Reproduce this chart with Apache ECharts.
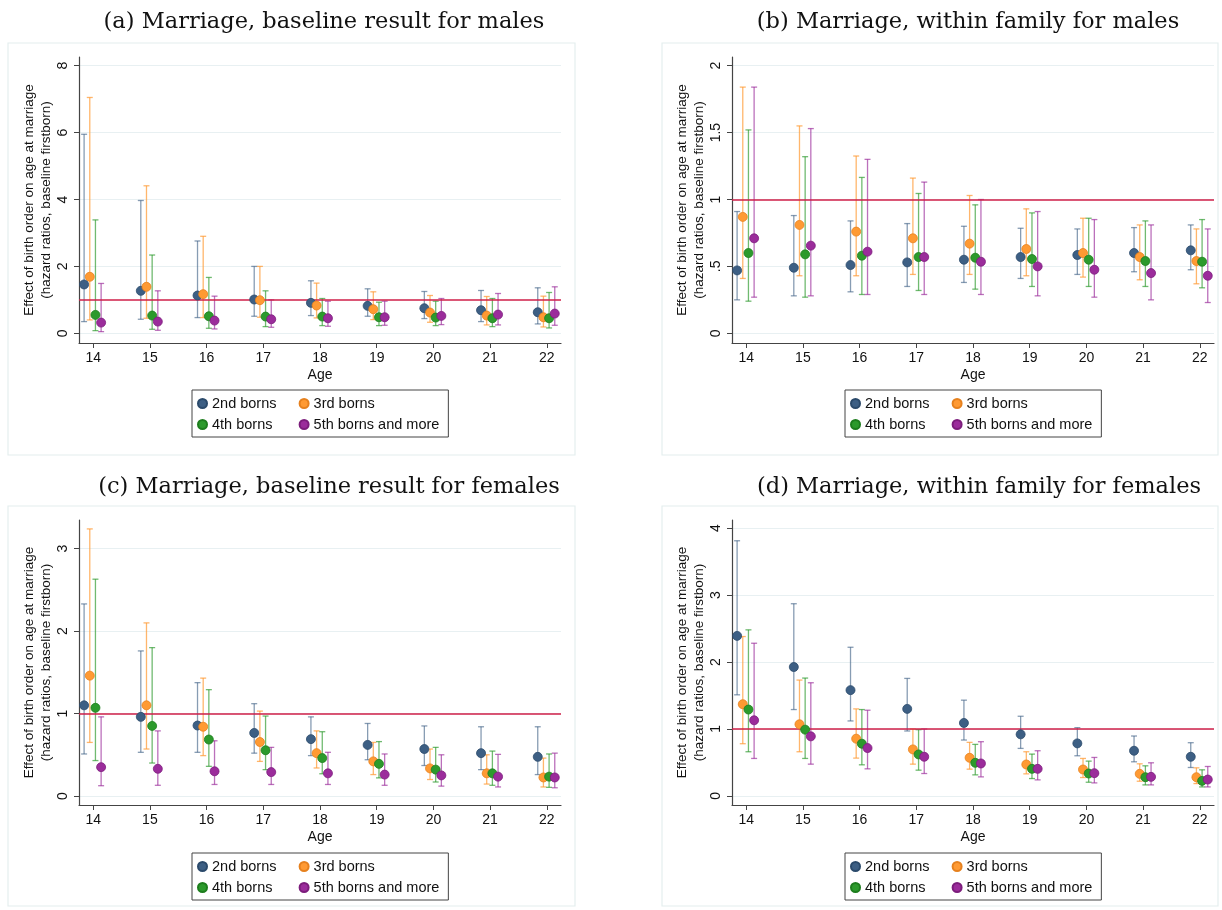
<!DOCTYPE html>
<html>
<head>
<meta charset="utf-8">
<script src="https://cdn.jsdelivr.net/npm/echarts@6/dist/echarts.min.js"></script>
<style>
html,body{margin:0;padding:0;background:#fff;}
#chart{width:1222px;height:910px;}
</style>
</head>
<body>
<div id="chart"></div>
<script>
// ---------------- DATA ----------------
const ages = [14, 15, 16, 17, 18, 19, 20, 21, 22];
const seriesNames = ['2nd borns', '3rd borns', '4th borns', '5th borns and more'];
const panelTitles = [
  '(a) Marriage, baseline result for males',
  '(b) Marriage, within family for males',
  '(c) Marriage, baseline result for females',
  '(d) Marriage, within family for females'
];
const yTicksA = [0, 2, 4, 6, 8];
const yTicksB = [0, 0.5, 1, 1.5, 2];
const yTicksC = [0, 1, 2, 3];
const yTicksD = [0, 1, 2, 3, 4];

// (a) baseline, males
const a2_est = [1.46, 1.27, 1.13, 1.01, 0.91, 0.82, 0.75, 0.69, 0.63];
const a2_lo  = [0.35, 0.42, 0.47, 0.51, 0.53, 0.51, 0.44, 0.35, 0.28];
const a2_hi  = [5.95, 3.97, 2.76, 2.00, 1.57, 1.33, 1.25, 1.28, 1.36];
const a3_est = [1.69, 1.39, 1.17, 0.99, 0.83, 0.72, 0.62, 0.53, 0.48];
const a3_lo  = [0.40, 0.45, 0.47, 0.48, 0.46, 0.41, 0.33, 0.25, 0.19];
const a3_hi  = [7.05, 4.41, 2.90, 2.00, 1.50, 1.24, 1.13, 1.10, 1.11];
const a4_est = [0.55, 0.53, 0.51, 0.50, 0.50, 0.48, 0.47, 0.45, 0.45];
const a4_lo  = [0.08, 0.12, 0.15, 0.20, 0.23, 0.23, 0.23, 0.20, 0.16];
const a4_hi  = [3.39, 2.34, 1.67, 1.27, 1.04, 0.93, 0.96, 1.04, 1.22];
const a5_est = [0.32, 0.35, 0.38, 0.42, 0.45, 0.48, 0.52, 0.56, 0.59];
const a5_lo  = [0.05, 0.09, 0.13, 0.18, 0.21, 0.24, 0.26, 0.25, 0.24];
const a5_hi  = [1.49, 1.27, 1.11, 1.00, 0.96, 0.96, 1.04, 1.19, 1.39];

// (b) within family, males
const b2_est = [0.47, 0.49, 0.51, 0.53, 0.55, 0.57, 0.585, 0.60, 0.62];
const b2_lo  = [0.25, 0.28, 0.31, 0.35, 0.38, 0.41, 0.44, 0.46, 0.475];
const b2_hi  = [0.91, 0.88, 0.84, 0.82, 0.80, 0.785, 0.78, 0.79, 0.81];
const b3_est = [0.87, 0.81, 0.76, 0.71, 0.67, 0.63, 0.60, 0.57, 0.54];
const b3_lo  = [0.41, 0.43, 0.43, 0.44, 0.44, 0.43, 0.42, 0.40, 0.37];
const b3_hi  = [1.84, 1.55, 1.325, 1.16, 1.03, 0.93, 0.86, 0.81, 0.78];
const b4_est = [0.60, 0.59, 0.58, 0.57, 0.565, 0.555, 0.55, 0.54, 0.535];
const b4_lo  = [0.24, 0.27, 0.29, 0.32, 0.33, 0.35, 0.35, 0.35, 0.34];
const b4_hi  = [1.52, 1.32, 1.165, 1.045, 0.96, 0.90, 0.86, 0.84, 0.85];
const b5_est = [0.71, 0.655, 0.61, 0.57, 0.535, 0.50, 0.475, 0.45, 0.43];
const b5_lo  = [0.27, 0.28, 0.29, 0.29, 0.29, 0.28, 0.27, 0.25, 0.23];
const b5_hi  = [1.84, 1.53, 1.30, 1.13, 1.00, 0.91, 0.85, 0.81, 0.78];

// (c) baseline, females
const c2_est = [1.10, 0.96, 0.855, 0.765, 0.69, 0.62, 0.57, 0.52, 0.475];
const c2_lo  = [0.51, 0.53, 0.53, 0.52, 0.49, 0.44, 0.37, 0.32, 0.26];
const c2_hi  = [2.33, 1.76, 1.375, 1.12, 0.96, 0.88, 0.85, 0.84, 0.84];
const c3_est = [1.46, 1.10, 0.84, 0.655, 0.52, 0.42, 0.335, 0.275, 0.225];
const c3_lo  = [0.65, 0.57, 0.49, 0.42, 0.34, 0.26, 0.20, 0.145, 0.11];
const c3_hi  = [3.24, 2.10, 1.43, 1.03, 0.79, 0.65, 0.57, 0.50, 0.46];
const c4_est = [1.07, 0.85, 0.685, 0.555, 0.46, 0.39, 0.32, 0.275, 0.235];
const c4_lo  = [0.43, 0.40, 0.36, 0.32, 0.27, 0.22, 0.17, 0.13, 0.105];
const c4_hi  = [2.63, 1.80, 1.29, 0.97, 0.78, 0.66, 0.59, 0.545, 0.51];
const c5_est = [0.35, 0.33, 0.30, 0.29, 0.275, 0.26, 0.25, 0.235, 0.225];
const c5_lo  = [0.125, 0.13, 0.14, 0.14, 0.14, 0.13, 0.12, 0.11, 0.10];
const c5_hi  = [0.96, 0.79, 0.67, 0.59, 0.53, 0.51, 0.50, 0.505, 0.52];

// (d) within family, females
const d2_est = [2.39, 1.925, 1.58, 1.30, 1.09, 0.92, 0.785, 0.675, 0.585];
const d2_lo  = [1.51, 1.29, 1.12, 0.97, 0.835, 0.71, 0.60, 0.51, 0.425];
const d2_hi  = [3.81, 2.87, 2.22, 1.755, 1.43, 1.19, 1.02, 0.895, 0.795];
const d3_est = [1.37, 1.07, 0.855, 0.695, 0.57, 0.47, 0.395, 0.33, 0.28];
const d3_lo  = [0.78, 0.66, 0.565, 0.475, 0.40, 0.33, 0.275, 0.22, 0.185];
const d3_hi  = [2.38, 1.73, 1.30, 1.00, 0.80, 0.66, 0.56, 0.48, 0.42];
const d4_est = [1.29, 0.99, 0.78, 0.62, 0.495, 0.405, 0.335, 0.28, 0.225];
const d4_lo  = [0.66, 0.56, 0.465, 0.385, 0.315, 0.26, 0.205, 0.165, 0.135];
const d4_hi  = [2.48, 1.76, 1.29, 0.99, 0.77, 0.625, 0.52, 0.45, 0.39];
const d5_est = [1.13, 0.89, 0.715, 0.585, 0.485, 0.405, 0.34, 0.285, 0.245];
const d5_lo  = [0.56, 0.475, 0.405, 0.335, 0.285, 0.24, 0.195, 0.165, 0.135];
const d5_hi  = [2.28, 1.69, 1.28, 1.00, 0.81, 0.675, 0.575, 0.495, 0.44];

// ---------------- BUILD ----------------
const panels = [
  { est: [a2_est, a3_est, a4_est, a5_est], lo: [a2_lo, a3_lo, a4_lo, a5_lo], hi: [a2_hi, a3_hi, a4_hi, a5_hi], ticks: yTicksA },
  { est: [b2_est, b3_est, b4_est, b5_est], lo: [b2_lo, b3_lo, b4_lo, b5_lo], hi: [b2_hi, b3_hi, b4_hi, b5_hi], ticks: yTicksB },
  { est: [c2_est, c3_est, c4_est, c5_est], lo: [c2_lo, c3_lo, c4_lo, c5_lo], hi: [c2_hi, c3_hi, c4_hi, c5_hi], ticks: yTicksC },
  { est: [d2_est, d3_est, d4_est, d5_est], lo: [d2_lo, d3_lo, d4_lo, d5_lo], hi: [d2_hi, d3_hi, d4_hi, d5_hi], ticks: yTicksD }
];

// layout (pixels)
const gridPos = [
  { left: 79, top: 57, width: 482, height: 286 },
  { left: 732, top: 57, width: 482, height: 286 },
  { left: 79, top: 520, width: 482, height: 285 },
  { left: 732, top: 520, width: 482, height: 285 }
];
const yRange = [[-0.29, 8.26], [-0.0725, 2.065], [-0.109, 3.348], [-0.135, 4.12]];
const boxes = [
  { x: 8, y: 43, w: 567, h: 412 },
  { x: 662, y: 43, w: 556, h: 412 },
  { x: 8, y: 506, w: 567, h: 400 },
  { x: 662, y: 506, w: 556, h: 400 }
];
const legendPos = [{ left: 192, top: 390 }, { left: 845, top: 390 }, { left: 192, top: 853 }, { left: 845, top: 853 }];
const titlePos = [{ x: 319, y: 6 }, { x: 963, y: 6 }, { x: 324, y: 471 }, { x: 974, y: 471 }];

const dodge = [-0.16, -0.06, 0.04, 0.14];
const fillColors = ['#3d5f84', '#ff9a33', '#2c9a2c', '#9b2c9b'];
const edgeColors = ['#2b4a6b', '#e6811e', '#1d7d1d', '#7c1d7c'];
const barColors = ['rgba(61,95,132,0.62)', 'rgba(255,154,51,0.72)', 'rgba(44,154,44,0.68)', 'rgba(155,44,155,0.68)'];

const FONT = "'Liberation Sans', Arial, sans-serif";

const grid = [], xAxis = [], yAxis = [], series = [], title = [], legend = [], graphics = [];

panels.forEach((p, pi) => {
  grid.push(Object.assign({ containLabel: false }, gridPos[pi]));
  xAxis.push({
    type: 'value', gridIndex: pi, min: 13.75, max: 22.25,
    name: 'Age', nameLocation: 'middle', nameGap: 25,
    nameTextStyle: { fontFamily: FONT, fontSize: 14, color: '#111' },
    axisLine: { show: true, onZero: false, lineStyle: { color: '#444', width: 1.2 } },
    axisTick: { show: true, length: 5, customValues: ages, lineStyle: { color: '#444' } },
    axisLabel: { customValues: ages, fontFamily: FONT, fontSize: 14, color: '#111', margin: 8 },
    splitLine: { show: false }
  });
  const isB = pi === 1;
  yAxis.push({
    type: 'value', gridIndex: pi, min: yRange[pi][0], max: yRange[pi][1],
    name: 'Effect of birth order on age at marriage\n(hazard ratios, baseline firstborn)',
    nameLocation: 'middle', nameGap: 21, nameRotate: 90,
    nameTextStyle: { fontFamily: FONT, fontSize: 13.5, color: '#111', lineHeight: 17 },
    axisLine: { show: true, onZero: false, lineStyle: { color: '#444', width: 1.2 } },
    axisTick: { show: true, length: 5, customValues: p.ticks, lineStyle: { color: '#444' } },
    axisLabel: {
      customValues: p.ticks, rotate: 90, fontFamily: FONT, fontSize: 14, color: '#111', margin: 9,
      formatter: v => (isB && v > 0 && v < 1) ? String(v).replace(/^0/, '') : String(v)
    },
    splitLine: { show: true, lineStyle: { color: '#e8f0f2', width: 1.2 } }
  });

  title.push({
    text: panelTitles[pi], left: titlePos[pi].x, top: titlePos[pi].y, textAlign: 'center',
    textStyle: { fontFamily: "'DejaVu Serif', serif", fontSize: 22.5, fontWeight: 'normal', color: '#111' }
  });

  legend.push({
    orient: 'vertical', left: legendPos[pi].left, top: legendPos[pi].top, height: 36,
    data: [seriesNames[0], seriesNames[2], seriesNames[1], seriesNames[3]],
    formatter: n => (n === seriesNames[0] || n === seriesNames[2]) ? n + '    ' : n,
    icon: 'circle', itemWidth: 9, itemHeight: 9, itemGap: 6,
    padding: [6, 9, 5, 5],
    borderColor: '#444', borderWidth: 1, backgroundColor: '#fff',
    selectedMode: false,
    textStyle: { fontFamily: FONT, fontSize: 14.5, color: '#111' }
  });

  graphics.push({
    type: 'rect', silent: true, z: -10,
    shape: { x: boxes[pi].x, y: boxes[pi].y, width: boxes[pi].w, height: boxes[pi].h },
    style: { fill: 'none', stroke: '#e4eeee', lineWidth: 1.2 }
  });

  for (let k = 0; k < 4; k++) {
    const barColor = barColors[k];
    series.push({
      type: 'custom', name: seriesNames[k] + ' CI', xAxisIndex: pi, yAxisIndex: pi, z: 2,
      silent: true,
      data: ages.map((a, i) => [a + dodge[k], p.lo[k][i], p.hi[k][i]]),
      encode: { x: 0, y: [1, 2] },
      renderItem: (params, api) => {
        const x = api.value(0);
        const top = api.coord([x, api.value(2)]);
        const bot = api.coord([x, api.value(1)]);
        const w = 3;
        const st = { stroke: barColor, lineWidth: 1.3, fill: null };
        return {
          type: 'group', children: [
            { type: 'line', shape: { x1: top[0], y1: top[1], x2: bot[0], y2: bot[1] }, style: st },
            { type: 'line', shape: { x1: top[0] - w, y1: top[1], x2: top[0] + w, y2: top[1] }, style: st },
            { type: 'line', shape: { x1: bot[0] - w, y1: bot[1], x2: bot[0] + w, y2: bot[1] }, style: st }
          ]
        };
      }
    });
  }
  for (let k = 0; k < 4; k++) {
    const s = {
      type: 'scatter', name: seriesNames[k], xAxisIndex: pi, yAxisIndex: pi, z: 5,
      symbol: 'circle', symbolSize: 9,
      itemStyle: { color: fillColors[k], borderColor: edgeColors[k], borderWidth: 0.8, opacity: 1 },
      data: ages.map((a, i) => [a + dodge[k], p.est[k][i]])
    };
    if (k === 0) {
      s.markLine = {
        silent: true, symbol: ['none', 'none'], animation: false,
        label: { show: false },
        lineStyle: { color: '#cf1f48', width: 1.6, type: 'solid' },
        data: [{ yAxis: 1 }]
      };
    }
    series.push(s);
  }
});

const chart = echarts.init(document.getElementById('chart'), null, { renderer: 'canvas' });
chart.setOption({
  backgroundColor: '#ffffff',
  animation: false,
  title, grid, xAxis, yAxis, legend, series,
  graphic: graphics
});
</script>
</body>
</html>
